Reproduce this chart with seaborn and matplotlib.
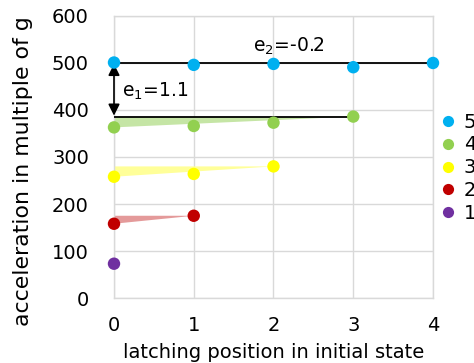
import pandas as pd
import matplotlib
matplotlib.use("Agg")
import matplotlib.pyplot as plt
import seaborn as sns

# latching data: one list per group (group = number of latching positions)
pos_5 = [0, 1, 2, 3, 4]
acc_5 = [501, 496, 498, 491, 500]
pos_4 = [0, 1, 2, 3]
acc_4 = [363, 366, 373, 386]
pos_3 = [0, 1, 2]
acc_3 = [258, 264, 280]
pos_2 = [0, 1]
acc_2 = [158, 175]
pos_1 = [0]
acc_1 = [73]

groups = ["5", "4", "3", "2", "1"]
colors = ["#00B0F0", "#92D050", "#FFFF00", "#C00000", "#7030A0"]
fill_colors = ["#00B0F0", "#C5E5A5", "#FFFF99", "#E49A9A", "#7030A0"]

# black reference lines / annotations
ref_top = 500
ref_mid = 386
e1_label = "e$_1$=1.1"
e2_label = "e$_2$=-0.2"

sns.set_theme(style="whitegrid")
plt.rcParams["font.family"] = ["DejaVu Sans"]
plt.rcParams["text.color"] = "black"
plt.rcParams["axes.labelcolor"] = "black"
plt.rcParams["xtick.color"] = "black"
plt.rcParams["ytick.color"] = "black"
plt.rcParams["mathtext.fontset"] = "dejavusans"

rows = []
for g, xs, ys in zip(groups, [pos_5, pos_4, pos_3, pos_2, pos_1],
                     [acc_5, acc_4, acc_3, acc_2, acc_1]):
    for x, y in zip(xs, ys):
        rows.append({"pos": x, "acc": y, "group": g})
df = pd.DataFrame(rows)

fig = plt.figure(figsize=(4.74, 3.63), dpi=100)
ax = fig.add_axes([0.2405, 0.179, 0.673, 0.777])

# shaded wedges between first point and the level of the last point
for g, xs, ys, fc in zip(groups[1:4], [pos_4, pos_3, pos_2], [acc_4, acc_3, acc_2], fill_colors[1:4]):
    top = ys[-1]
    ax.fill([xs[0], xs[0], xs[-1]], [top, ys[0], top], color=fc, lw=0, zorder=2)

ax.plot([0, 4], [ref_top, ref_top], color="black", lw=1.3, zorder=3)
ax.plot([0, 3], [ref_mid, ref_mid], color="black", lw=1.3, zorder=3)
ax.annotate("", xy=(0, ref_mid + 2), xytext=(0, ref_top - 2),
            arrowprops=dict(arrowstyle="<|-|>", color="black", lw=1.2,
                            mutation_scale=17, shrinkA=0, shrinkB=0), zorder=4)

sns.scatterplot(data=df, x="pos", y="acc", hue="group", hue_order=groups,
                palette=colors, s=80, linewidth=0, ax=ax, zorder=5, clip_on=False)

ax.text(0.1, 440, e1_label, fontsize=13.5, va="center", ha="left")
ax.text(2.2, 536, e2_label, fontsize=13.5, va="center", ha="center")

ax.set_xlim(0, 4)
ax.set_ylim(0, 600)
ax.set_xticks([0, 1, 2, 3, 4])
ax.set_yticks([0, 100, 200, 300, 400, 500, 600])
ax.tick_params(axis="both", labelsize=14, length=0)
ax.tick_params(axis="x", pad=13)
ax.tick_params(axis="y", pad=18)
ax.grid(color="#D9D9D9", lw=1)
for sp in ax.spines.values():
    sp.set_color("#D9D9D9")
    sp.set_linewidth(1)
ax.set_xlabel("latching position in initial state", fontsize=14, labelpad=6)
ax.set_ylabel("acceleration in multiple of g", fontsize=15.8)
ax.yaxis.set_label_coords(-0.255, 0.45)

ax.legend(title=None, frameon=False, loc="upper left", bbox_to_anchor=(0.962, 0.685),
          fontsize=14, handletextpad=-0.2, labelspacing=0.2, borderaxespad=0,
          markerscale=0.9)

fig.savefig("out.png", dpi=100)
